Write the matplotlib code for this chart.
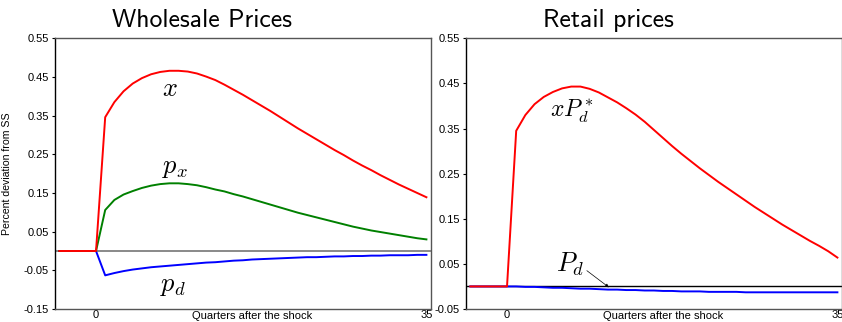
#!/usr/bin/env python3
"""Impulse responses of wholesale and retail prices to the shock.

Saves ``out.png`` (842x322).
"""

import matplotlib

matplotlib.use("Agg")
import matplotlib.pyplot as plt  # noqa: E402

# Quarters after the shock, 4 quarters of steady state before it.
QUARTERS = list(range(-4, 37))
PRE = [0.0, 0.0, 0.0, 0.0, 0.0]

# Wholesale prices (left panel)
X_WHOLESALE = PRE + [
    0.346, 0.385, 0.413, 0.433, 0.447, 0.457, 0.463, 0.466, 0.466, 0.464,
    0.459, 0.451, 0.442, 0.430, 0.417, 0.404, 0.390, 0.376, 0.362, 0.347,
    0.332, 0.317, 0.303, 0.289, 0.275, 0.261, 0.248, 0.234, 0.221, 0.209,
    0.196, 0.184, 0.172, 0.161, 0.150, 0.139,
]
PX_WHOLESALE = PRE + [
    0.106, 0.132, 0.146, 0.155, 0.163, 0.169, 0.173, 0.175, 0.175, 0.173,
    0.170, 0.165, 0.159, 0.154, 0.147, 0.141, 0.134, 0.127, 0.120, 0.113,
    0.106, 0.099, 0.093, 0.087, 0.081, 0.075, 0.069, 0.063, 0.058, 0.053,
    0.049, 0.045, 0.041, 0.037, 0.033, 0.030,
]
PD_WHOLESALE = PRE + [
    -0.063, -0.057, -0.052, -0.048, -0.045, -0.042, -0.040, -0.038, -0.036, -0.034,
    -0.032, -0.030, -0.029, -0.027, -0.025, -0.024, -0.022, -0.021, -0.020, -0.019,
    -0.018, -0.017, -0.016, -0.016, -0.015, -0.014, -0.014, -0.013, -0.013, -0.012,
    -0.012, -0.011, -0.011, -0.011, -0.010, -0.010,
]

# Retail prices (right panel)
XPD_RETAIL = PRE + [
    0.345, 0.380, 0.404, 0.420, 0.431, 0.439, 0.443, 0.443, 0.438, 0.430,
    0.419, 0.408, 0.395, 0.381, 0.365, 0.347, 0.329, 0.311, 0.294, 0.278,
    0.262, 0.247, 0.232, 0.218, 0.204, 0.190, 0.176, 0.163, 0.150, 0.137,
    0.125, 0.113, 0.101, 0.090, 0.078, 0.064,
]
PD_RETAIL = PRE + [
    0.000, -0.001, -0.001, -0.002, -0.003, -0.003, -0.004, -0.005, -0.005, -0.006,
    -0.007, -0.007, -0.008, -0.008, -0.009, -0.009, -0.010, -0.010, -0.011, -0.011,
    -0.011, -0.012, -0.012, -0.012, -0.012, -0.013, -0.013, -0.013, -0.013, -0.013,
    -0.013, -0.013, -0.013, -0.013, -0.013, -0.013,
]

XTICK_POS = [0, 36]
XTICK_LABELS = ["0", "35"]
LEFT_YTICKS = [-0.15, -0.05, 0.05, 0.15, 0.25, 0.35, 0.45, 0.55]
RIGHT_YTICKS = [-0.05, 0.05, 0.15, 0.25, 0.35, 0.45, 0.55]

TICK_FONT = "Liberation Sans"
TITLE_FONT = "cmss10"


def style_axes(ax, yticks):
    ax.set_xlim(-4.47, 36.5)
    ax.set_ylim(yticks[0], yticks[-1])
    ax.set_xticks(XTICK_POS)
    ax.set_xticklabels(XTICK_LABELS)
    ax.set_yticks(yticks)
    ax.set_yticklabels([f"{v:.2f}" for v in yticks])
    ax.tick_params(axis="x", length=0, pad=1.0, labelsize=8)
    ax.tick_params(axis="y", direction="out", length=2.5, width=0.8, pad=2,
                   labelsize=8)
    for lab in ax.get_xticklabels() + ax.get_yticklabels():
        lab.set_fontname(TICK_FONT)
    for side in ("top", "right", "bottom"):
        ax.spines[side].set_color("#555555")
        ax.spines[side].set_linewidth(1.0)
    ax.spines["left"].set_color("black")
    ax.spines["left"].set_linewidth(1.0)
    ax.text(0.525, -0.027, "Quarters after the shock", transform=ax.transAxes,
            ha="center", va="center", fontsize=8, fontname=TICK_FONT)


def main() -> int:
    plt.rcParams["mathtext.fontset"] = "cm"

    W, H = 842, 322
    fig = plt.figure(figsize=(W / 100, H / 100), dpi=100)
    ax1 = fig.add_axes([55 / W, 1 - 309 / H, 376 / W, 270.7 / H])
    ax2 = fig.add_axes([466 / W, 1 - 309 / H, 376 / W, 270.7 / H])

    # Left: wholesale prices
    ax1.axhline(0, color="#808080", lw=1.3, zorder=1)
    ax1.plot(QUARTERS, PD_WHOLESALE, color="#0000ff", lw=1.4, zorder=2)
    ax1.plot(QUARTERS, PX_WHOLESALE, color="#008000", lw=1.4, zorder=3)
    ax1.plot(QUARTERS, X_WHOLESALE, color="#ff0000", lw=1.4, zorder=4)
    style_axes(ax1, LEFT_YTICKS)
    ax1.set_ylabel("Percent deviation from SS", fontsize=7.6, fontname=TICK_FONT)
    ax1.yaxis.set_label_coords(-0.114, 0.5)
    ax1.text(8.1, 0.419, r"$x$", fontsize=19, ha="center", va="center")
    ax1.text(8.6, 0.218, r"$p_x$", fontsize=19, ha="center", va="center")
    ax1.text(8.4, -0.088, r"$p_d$", fontsize=19, ha="center", va="center")

    # Right: retail prices
    ax2.axhline(0, color="black", lw=1.0, zorder=1)
    ax2.plot(QUARTERS, PD_RETAIL, color="#0000ff", lw=1.4, zorder=2)
    ax2.plot(QUARTERS, XPD_RETAIL, color="#ff0000", lw=1.4, zorder=3)
    style_axes(ax2, RIGHT_YTICKS)
    ax2.text(7.1, 0.387, r"$xP_d^*$", fontsize=17, ha="center", va="center")
    ax2.text(6.9, 0.050, r"$P_d$", fontsize=19, ha="center", va="center")
    ax2.annotate("", xy=(11.1, -0.002), xytext=(8.7, 0.035),
                 arrowprops=dict(arrowstyle="-|>", color="black", lw=0.5,
                                 mutation_scale=5, shrinkA=0, shrinkB=0))

    fig.text(201.7 / W, 1 - 26.7 / H, "Wholesale Prices", fontsize=18.5,
             fontname=TITLE_FONT, ha="center", va="baseline")
    fig.text(608 / W, 1 - 26.7 / H, "Retail prices", fontsize=18.5,
             fontname=TITLE_FONT, ha="center", va="baseline")

    fig.savefig("out.png", dpi=100)
    return 0


if __name__ == "__main__":
    raise SystemExit(main())
